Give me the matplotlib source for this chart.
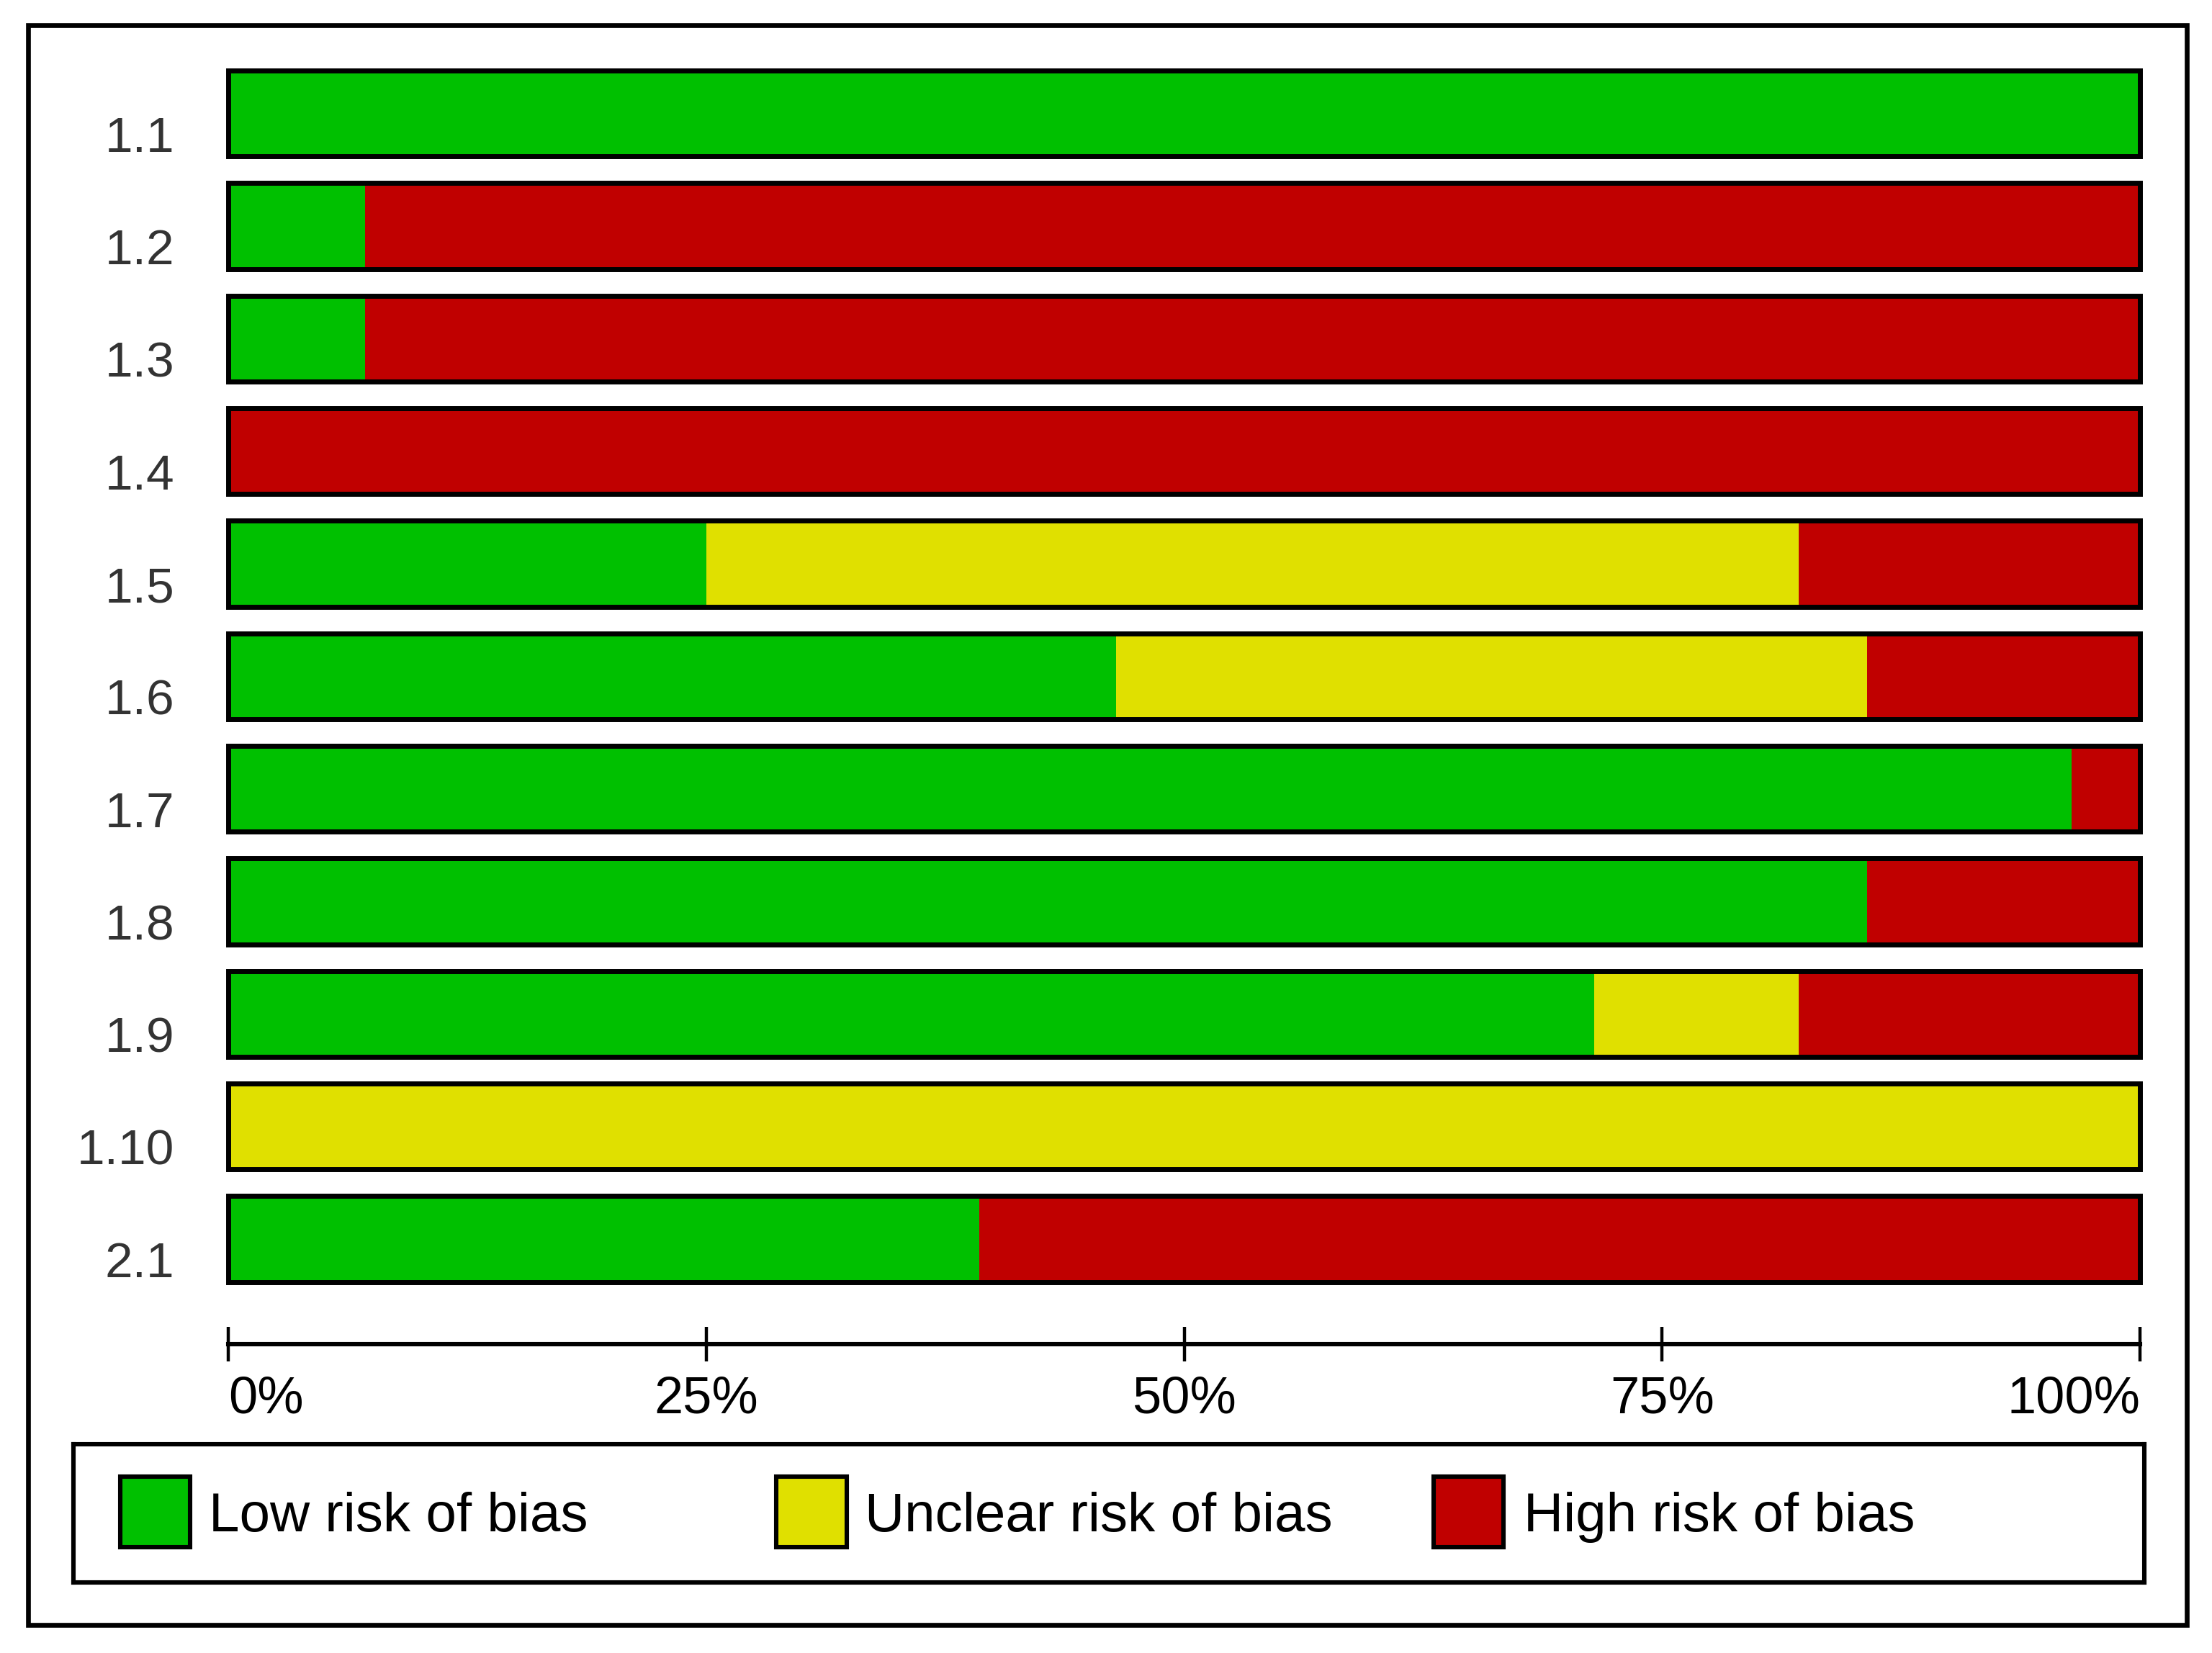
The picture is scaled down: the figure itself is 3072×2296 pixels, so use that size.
import matplotlib
matplotlib.use("Agg")
import matplotlib.pyplot as plt
from matplotlib.patches import Rectangle
from matplotlib.transforms import ScaledTranslation

# risk of bias summary, counts out of 28 studies
items = ["1.1", "1.2", "1.3", "1.4", "1.5", "1.6", "1.7", "1.8", "1.9", "1.10", "2.1"]
n_studies = 28
low = [28, 2, 2, 0, 7, 13, 27, 24, 20, 0, 11]
unclear = [0, 0, 0, 0, 16, 11, 0, 0, 3, 28, 0]
high = [0, 26, 26, 28, 5, 4, 1, 4, 5, 0, 17]

categories = ["Low risk of bias", "Unclear risk of bias", "High risk of bias"]
colors = ["#00C000", "#E0E000", "#C00000"]
xticks = [0, 25, 50, 75, 100]
xticklabels = ["0%", "25%", "50%", "75%", "100%"]

plt.rcParams['font.family'] = ['Liberation Sans', 'DejaVu Sans']

W, H = 1568.0, 1172.0  # layout measured on a half-size grid
fig = plt.figure(figsize=(15.36, 11.48), dpi=200)

def box(x0, y0, x1, y1):
    return [x0 / W, 1 - y1 / H, (x1 - x0) / W, (y1 - y0) / H]

# outer frame
fig.patches.append(Rectangle((20 / W, 1 - 1152 / H), 1530 / W, 1134 / H,
                             transform=fig.transFigure, fill=False,
                             edgecolor="black", linewidth=2.4))

ax = fig.add_axes(box(162, 40.6, 1517, 918.4))
ypos = list(range(len(items)))
pct = [[v * 100.0 / n_studies for v in s] for s in (low, unclear, high)]
left = [0.0] * len(items)
bh = 0.765
for vals, c in zip(pct, colors):
    ax.barh(ypos, vals, left=left, height=bh, color=c, edgecolor="none")
    left = [a + b for a, b in zip(left, vals)]
for y in ypos:
    ax.add_patch(Rectangle((0, y - bh / 2), 100, bh, fill=False,
                           edgecolor="black", linewidth=2.5, clip_on=False,
                           zorder=3))

ax.set_xlim(0, 100)
ax.set_ylim(len(items) - 0.5, -0.5)
for s in ["left", "top", "right"]:
    ax.spines[s].set_visible(False)
ax.spines["bottom"].set_position(("outward", 24.5))
ax.spines["bottom"].set_linewidth(2.2)
ax.spines["bottom"].set_bounds(0, 100)
ax.set_xticks(xticks)
ax.set_xticklabels(xticklabels, fontsize=26)
ax.tick_params(axis="x", direction="inout", length=17, width=1.6, pad=7)
xl = ax.get_xticklabels()
xl[0].set_ha("left")
xl[-1].set_ha("right")

ax.set_yticks(ypos)
ax.set_yticklabels(items, fontsize=25, color="#333333")
ax.tick_params(axis="y", length=0, pad=27)
shift = ScaledTranslation(0, -0.14, fig.dpi_scale_trans)
for lab in ax.get_yticklabels():
    lab.set_transform(lab.get_transform() + shift)

# legend box
lg = fig.add_axes(box(52, 1024, 1520, 1122))
lg.set_xlim(52, 1520)
lg.set_ylim(1122, 1024)
lg.set_xticks([])
lg.set_yticks([])
for s in lg.spines.values():
    s.set_linewidth(2.2)
for x0, tx, lab, c in zip([85, 550, 1016], [148, 613, 1080], categories, colors):
    lg.add_patch(Rectangle((x0, 1047), 50, 50, facecolor=c,
                           edgecolor="black", linewidth=2.2))
    lg.text(tx, 1076, lab, fontsize=27.5, va="center", ha="left")

plt.savefig("out.png", dpi=200)
plt.close()
